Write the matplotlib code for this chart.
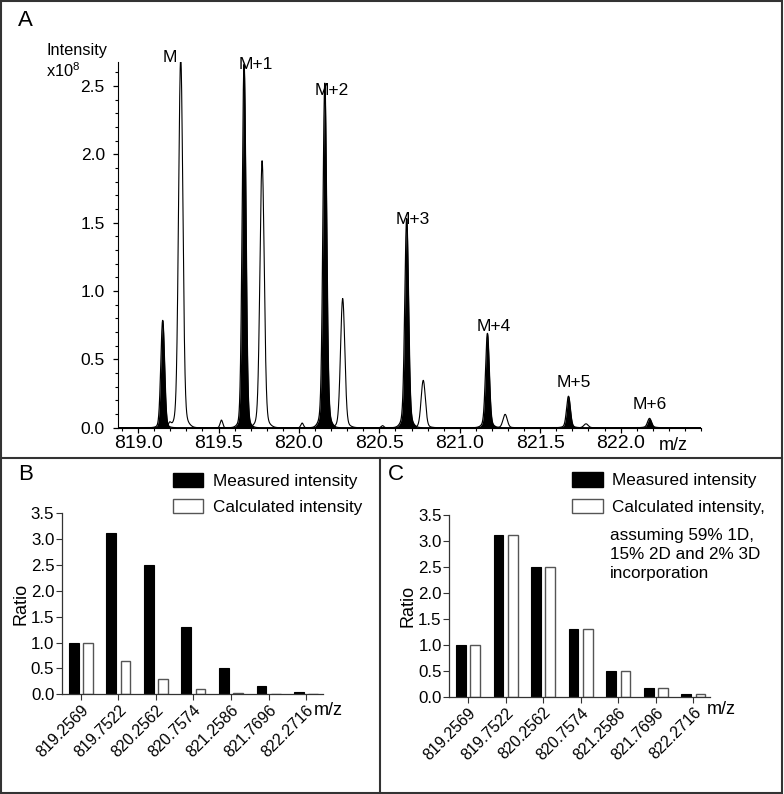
import numpy as np
import matplotlib.pyplot as plt
from matplotlib.patches import Patch, Rectangle
from matplotlib.lines import Line2D
from matplotlib.ticker import MultipleLocator

plt.rcParams['font.family'] = ['Liberation Sans', 'DejaVu Sans']

# ---- panel A: isotope peaks (m/z, intensity x10^8)
measured_mz = [819.153, 819.659, 820.161, 820.670, 821.172, 821.676, 822.180]
measured_height = [0.76, 2.57, 2.37, 1.42, 0.64, 0.215, 0.06]
measured_base = [0.025, 0.09, 0.15, 0.11, 0.05, 0.015, 0.008]
calc_mz = [819.265, 819.771, 820.272, 820.773, 821.282, 821.785]
calc_height = [2.58, 1.86, 0.90, 0.33, 0.093, 0.027]
small_mz = [819.196, 819.518, 820.020, 820.520]
small_height = [0.03, 0.056, 0.034, 0.015]

peak_names = ['M', 'M+1', 'M+2', 'M+3', 'M+4', 'M+5', 'M+6']
name_x = [819.196, 819.732, 820.203, 820.706, 821.209, 821.707, 822.179]
name_y = [2.71, 2.66, 2.47, 1.52, 0.74, 0.33, 0.17]

# ---- panels B and C
mz_labels = ['819.2569', '819.7522', '820.2562', '820.7574', '821.2586', '821.7696', '822.2716']
measured_ratio = [1.0, 3.11, 2.50, 1.30, 0.50, 0.17, 0.05]
calc_ratio_b = [1.0, 0.65, 0.30, 0.10, 0.03, 0.01, 0.005]
calc_ratio_c = [1.0, 3.11, 2.50, 1.30, 0.50, 0.17, 0.05]

W, H = 784, 794


def fx(px):
    return px / W


def fy(py):
    return 1 - py / H


def profile(x, centres, heights, sigma):
    y = np.zeros_like(x)
    for c, h in zip(centres, heights):
        y += h * np.exp(-0.5 * ((x - c) / sigma) ** 2)
    return y


fig = plt.figure(figsize=(W / 100, H / 100), dpi=100)

# ---------------- panel A
axA = fig.add_axes([fx(118), fy(427.7), fx(701 - 118), (427.7 - 62) / H])
mz = np.linspace(818.875, 822.5, 6000)
black = profile(mz, measured_mz, measured_height, 0.0115) + profile(mz, measured_mz, measured_base, 0.027)
calc_base = [h * 0.05 for h in calc_height]
white = (profile(mz, calc_mz, calc_height, 0.013) + profile(mz, calc_mz, calc_base, 0.032)
         + profile(mz, small_mz, small_height, 0.008))
axA.fill_between(mz, 0, black, color='black', lw=0)
axA.plot(mz, black, color='black', lw=0.9)
axA.plot(mz, white, color='black', lw=0.8)

axA.set_xlim(818.875, 822.5)
axA.set_ylim(0, 2.675)
axA.spines['top'].set_visible(False)
axA.spines['right'].set_visible(False)
axA.set_xticks([819.0, 819.5, 820.0, 820.5, 821.0, 821.5, 822.0])
axA.set_xticklabels(['819.0', '819.5', '820.0', '820.5', '821.0', '821.5', '822.0'])
axA.xaxis.set_minor_locator(MultipleLocator(0.1))
axA.set_yticks([0, 0.5, 1.0, 1.5, 2.0, 2.5])
axA.set_yticklabels(['0.0', '0.5', '1.0', '1.5', '2.0', '2.5'])
axA.yaxis.set_minor_locator(MultipleLocator(0.1))
axA.tick_params(axis='both', which='major', length=3.5, width=0.9)
axA.tick_params(axis='both', which='minor', length=2, width=0.8)
axA.tick_params(axis='x', pad=1.5, labelsize=14)
axA.tick_params(axis='y', pad=6, labelsize=12.5)

for name, x, y in zip(peak_names, name_x, name_y):
    axA.text(x, y, name, ha='center', va='center', fontsize=12.5, clip_on=False)
axA.text(822.328, -0.127, 'm/z', ha='center', va='center', fontsize=13)

fig.text(fx(46), fy(50), 'Intensity', ha='left', va='center', fontsize=11.8)
fig.text(fx(46), fy(71), r'x10$^{\mathregular{8}}$', ha='left', va='center', fontsize=11.8)
fig.text(fx(18), fy(20), 'A', ha='left', va='center', fontsize=16)


# ---------------- panels B and C
def bar_panel(ax, calc):
    x = np.arange(len(mz_labels))
    ax.bar(x - 0.19, measured_ratio, width=0.26, color='black', edgecolor='black', lw=0.8)
    ax.bar(x + 0.19, calc, width=0.26, color='white', edgecolor='#555555', lw=1.0)
    ax.set_xlim(-0.5, 6.45)
    ax.set_ylim(0, 3.5)
    ax.set_yticks(np.arange(0, 3.51, 0.5))
    ax.set_yticklabels([f'{v:.1f}' for v in np.arange(0, 3.51, 0.5)])
    ax.set_xticks(x)
    ax.set_xticklabels(mz_labels, rotation=45, ha='right', va='top', rotation_mode='anchor',
                       fontsize=11.5)
    ax.spines['top'].set_visible(False)
    ax.spines['right'].set_visible(False)
    for s in ['left', 'bottom']:
        ax.spines[s].set_color('#333333')
        ax.spines[s].set_linewidth(0.9)
    ax.tick_params(axis='both', length=4, width=0.8, color='#333333')
    ax.tick_params(axis='y', pad=1.5, labelsize=12.2)
    ax.tick_params(axis='x', pad=2)
    ax.set_ylabel('Ratio', fontsize=13, labelpad=1)


leg_kw = dict(loc='upper left', frameon=False, fontsize=12.3, handlelength=1.8,
              handleheight=0.9, handletextpad=0.55, labelspacing=0.6, borderpad=0, borderaxespad=0)

axB = fig.add_axes([fx(62), 1 - 694.3 / H, 261 / W, 181 / H])
bar_panel(axB, calc_ratio_b)
axB.text(1.02, -0.087, 'm/z', transform=axB.transAxes, ha='center', va='center', fontsize=13)
handles = [Patch(facecolor='black', edgecolor='black'), Patch(facecolor='white', edgecolor='#555555')]
axB.legend(handles, ['Measured intensity', 'Calculated intensity'],
           bbox_to_anchor=(0.424, 1.225), **leg_kw)
fig.text(fx(18), fy(475), 'B', ha='left', va='center', fontsize=16)

axC = fig.add_axes([fx(449.3), 1 - 696.7 / H, 261 / W, 181.7 / H])
bar_panel(axC, calc_ratio_c)
axC.text(1.042, -0.073, 'm/z', transform=axC.transAxes, ha='center', va='center', fontsize=13)
axC.legend(handles, ['Measured intensity', 'Calculated intensity,'],
           bbox_to_anchor=(0.47, 1.234), **leg_kw)
axC.text(0.617, 0.93, 'assuming 59% 1D,\n15% 2D and 2% 3D\nincorporation', transform=axC.transAxes,
         ha='left', va='top', fontsize=12.3, linespacing=1.33)
fig.text(fx(388), fy(475), 'C', ha='left', va='center', fontsize=16)

# panel frames
frame_kw = dict(color='#333333', lw=1.5, transform=fig.transFigure)
fig.add_artist(Rectangle((fx(1), fy(793)), fx(781), (792) / H, fill=False, ec='#333333', lw=1.5,
                         transform=fig.transFigure))
fig.add_artist(Line2D([fx(1), fx(782)], [fy(457.5), fy(457.5)], **frame_kw))
fig.add_artist(Line2D([fx(380), fx(380)], [fy(457.5), fy(793)], **frame_kw))

fig.savefig('out.png', dpi=100)
